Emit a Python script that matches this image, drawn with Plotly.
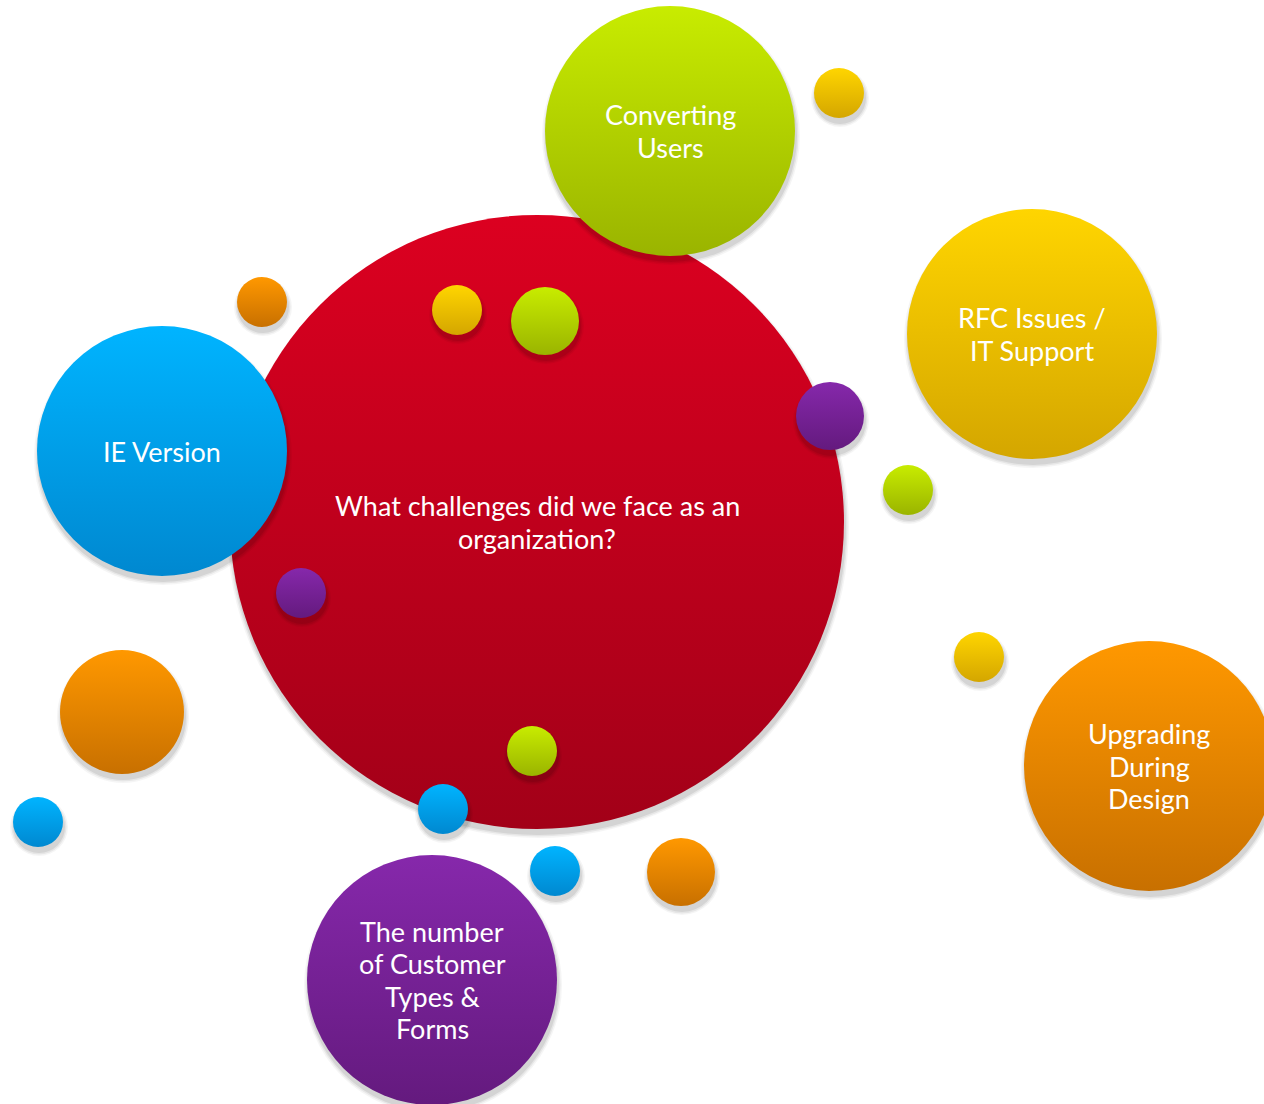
import plotly.graph_objects as go

W, H = 1264, 1104

# Bubbles: center x, center y (pixels from top-left), radius, colour family
bubble_x = [537, 670, 162, 1032, 1149, 432, 262, 457, 545, 839, 830, 908, 301, 122, 38, 979, 532, 443, 555, 681]
bubble_y = [522, 131, 451, 334, 766, 980, 302, 310, 321, 93, 416, 490, 593, 712, 822, 657, 751, 809, 871, 872]
bubble_r = [307, 125, 125, 125, 125, 125, 25, 25, 34, 25, 34, 25, 25, 62, 25, 25, 25, 25, 25, 34]
bubble_c = ["red", "green", "blue", "yellow", "orange", "purple",
            "orange", "yellow", "green", "yellow", "purple", "green", "purple",
            "orange", "blue", "yellow", "green", "blue", "blue", "orange"]

palette_top = {"red": "#dc0020", "green": "#c8ec00", "blue": "#00b4ff",
               "yellow": "#ffd500", "orange": "#ff9800", "purple": "#8628ab"}
palette_bot = {"red": "#a20018", "green": "#9ab400", "blue": "#0088d0",
               "yellow": "#d4a600", "orange": "#c87000", "purple": "#641a7e"}

labels = [["What challenges did we face as an", "organization?"],
          ["Converting", "Users"],
          ["IE Version"],
          ["RFC Issues /", "IT Support"],
          ["Upgrading", "During", "Design"],
          ["The number", "of Customer", "Types &amp;", "Forms"]]

LINE_H = 32.5
FONT = dict(family="Lato, Open Sans, sans-serif", size=27, color="white")

fig = go.Figure()

for i in range(len(bubble_x)):
    x, y, r, c = bubble_x[i], bubble_y[i], bubble_r[i], bubble_c[i]
    # soft shadow
    for k, a in enumerate([0.04, 0.06, 0.08]):
        fig.add_trace(go.Scatter(
            x=[x + 1], y=[y + 5], mode="markers", hoverinfo="skip", cliponaxis=False,
            marker=dict(size=2 * r + 8 - 3 * k, color=f"rgba(0,0,0,{a})", line=dict(width=0)),
            showlegend=False))
    fig.add_trace(go.Scatter(
        x=[x], y=[y], mode="markers", hoverinfo="skip", cliponaxis=False,
        marker=dict(size=2 * r, color=palette_top[c],
                    gradient=dict(type="vertical", color=palette_bot[c]),
                    line=dict(width=0)),
        showlegend=False))

for i, lines in enumerate(labels):
    n = len(lines)
    for j, line in enumerate(lines):
        fig.add_annotation(x=bubble_x[i], y=bubble_y[i] + (j - (n - 1) / 2) * LINE_H,
                           text=line, showarrow=False, font=FONT,
                           xanchor="center", yanchor="middle")

fig.update_layout(
    width=W, height=H, margin=dict(l=0, r=0, t=0, b=0),
    paper_bgcolor="white", plot_bgcolor="white",
    xaxis=dict(range=[0, W], visible=False, fixedrange=True),
    yaxis=dict(range=[H, 0], visible=False, fixedrange=True),
)

fig.write_html("out.html",
               config={"displayModeBar": False, "staticPlot": True},
               post_script="document.body.style.margin='0';document.body.style.overflow='hidden';")
